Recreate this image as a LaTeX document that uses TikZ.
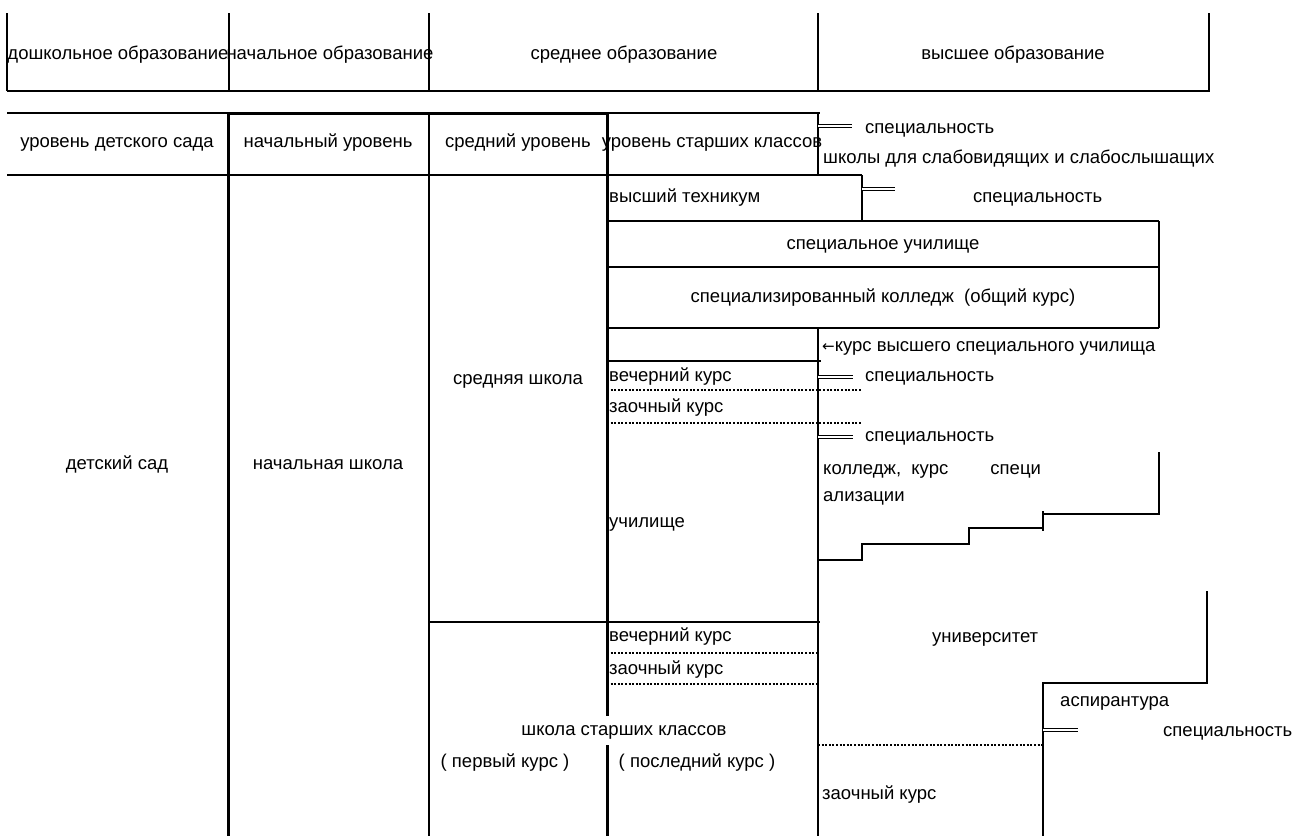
\documentclass[tikz,border=0pt]{standalone}
\usepackage{fontspec}
\setmainfont{Liberation Sans}
\newfontfamily\arrowfont{DejaVu Sans}
\begin{document}
\begin{tikzpicture}[x=1pt,y=-1pt,
  tl/.style={line width=1.5pt},
  tk/.style={line width=3pt},
  dl/.style={line width=2.6pt, dash pattern=on 2pt off 1.6pt},
  dbl/.style={line width=0.9pt, double, double distance=1.6pt},
  lbl/.style={inner sep=0pt, text height=13pt, text depth=4pt, font=\fontsize{18.5}{21}\selectfont},
  lft/.style={lbl, anchor=west}]
\useasboundingbox (0,0) rectangle (1295,836);
% header
\foreach \x in {7,229,429,818,1209} \draw[tl] (\x,13) -- (\x,91);
\draw[tl] (7,91) -- (1210,91);
\node[lbl] (h1) at (118,55) {дошкольное образование};
\node[lbl] (h2) at (330,55) {начальное образование};
\node[lbl] (h3) at (624,55) {среднее образование};
\node[lbl] (h4) at (1013,55) {высшее образование};
% row 2
\draw[tl] (7,113) -- (820,113);
\draw[tl] (7,175) -- (862,175);
\draw[tk] (228,113) -- (607,113);
\draw[tk] (228,113) -- (228,836);
\draw[tk] (607,113) -- (607,716);
\draw[tk] (607,745) -- (607,836);
\draw[tl] (429,113) -- (429,836);
\draw[tl] (818,113) -- (818,176);
\node[lbl] (r1) at (117,143) {уровень детского сада};
\node[lbl] (r2) at (328,143) {начальный уровень};
\node[lbl] (r3) at (518,143) {средний уровень};
\node[lbl] (r4) at (712,143) {уровень старших классов};
\draw[dbl] (818,126) -- (852,126);
\node[lft] (sp1) at (865,129) {специальность};
\node[lft] (sch) at (823,159) {школы для слабовидящих и слабослышащих};
% high tech
\draw[tl] (862,175) -- (862,221);
\draw[dbl] (862,189) -- (895,189);
\node[lft] (vt) at (609,198) {высший техникум};
\node[lft] (sp2) at (973,198) {специальность};
% boxes
\draw[tl] (607,221) -- (1159,221);
\draw[tl] (607,267) -- (1159,267);
\draw[tl] (607,328) -- (1159,328);
\draw[tl] (1159,221) -- (1159,328);
\node[lbl] (su) at (883,245) {специальное училище};
\node[lbl] (sk) at (883,298) {специализированный колледж \ (общий курс)};
\draw[tl] (818,328) -- (818,836);
\draw[tl] (607,361) -- (821,361);
\node[lft] (kv) at (822,347) {{\arrowfont\fontsize{15}{18}\selectfont ←}курс высшего специального училища};
% middle school
\node[lbl] (ss) at (518,380) {средняя школа};
\node[lft] (ve1) at (609,377) {вечерний курс};
\draw[dl] (607,390) -- (862,390);
\node[lft] (za1) at (609,408) {заочный курс};
\draw[dl] (607,423) -- (862,423);
\draw[dbl] (818,377) -- (853,377);
\node[lft] (sp3) at (865,377) {специальность};
\draw[dbl] (818,437) -- (853,437);
\node[lft] (sp4) at (865,437) {специальность};
\node[lft] (kol) at (823,470) {колледж, \ курс \qquad специ};
\node[lft] (ali) at (823,497) {ализации};
\node[lft] (uch) at (609,523) {училище};
\node[lbl] (ds) at (117,465) {детский сад};
\node[lbl] (ns) at (328,465) {начальная школа};
% staircase
\draw[tl] (818,560) -- (862,560) -- (862,544) -- (969,544) -- (969,528) -- (1043,528);
\draw[tl] (1043,511) -- (1043,531);
\draw[tl] (1043,514) -- (1159,514) -- (1159,452);
% high school
\draw[tl] (429,622) -- (820,622);
\node[lft] (ve2) at (609,637) {вечерний курс};
\draw[dl] (607,653) -- (818,653);
\node[lft] (za2) at (609,670) {заочный курс};
\draw[dl] (607,684) -- (818,684);
\node[lbl] (shk) at (624,731) {школа старших классов};
\node[lbl] (pk) at (505,763) {( первый курс )};
\node[lbl] (lk) at (697,763) {( последний курс )};
% university
\node[lft] (un) at (932,638) {университет};
\draw[tl] (1207,591) -- (1207,683) -- (1043,683) -- (1043,836);
\node[lft] (asp) at (1060,702) {аспирантура};
\draw[dbl] (1043,730) -- (1078,730);
\node[lft] (sp5) at (1163,732) {специальность};
\draw[dl] (818,745) -- (1043,745);
\node[lft] (za3) at (822,795) {заочный курс};
\end{tikzpicture}
\end{document}
